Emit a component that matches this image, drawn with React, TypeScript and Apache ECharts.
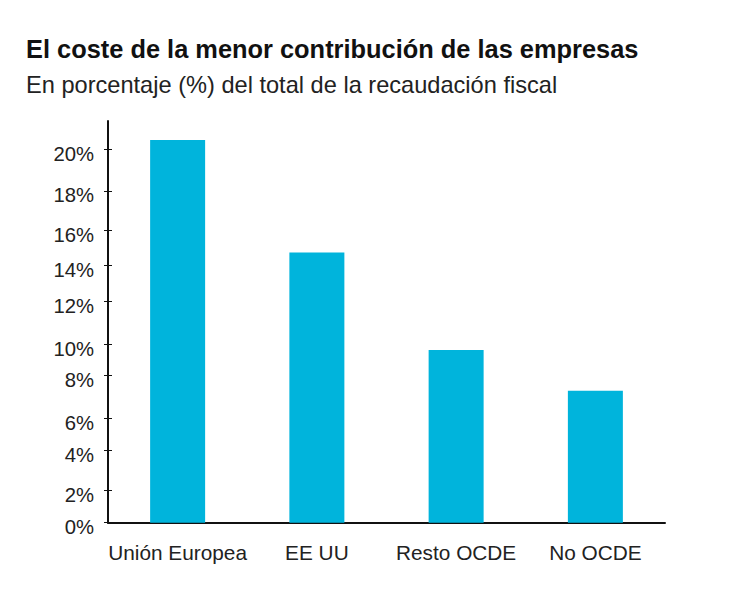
import React, { useEffect, useRef } from "react";
import * as echarts from "echarts";

const titleText = "El coste de la menor contribución de las empresas";
const subtitleText = "En porcentaje (%) del total de la recaudación fiscal";

const categories = ["Unión Europea", "EE UU", "Resto OCDE", "No OCDE"];
const values = [20.5, 14.48, 9.25, 7.07];

// Tick labels as printed in the original, and where their ticks sit on the value scale
const tickLabels = ["0%", "2%", "4%", "6%", "8%", "10%", "12%", "14%", "16%", "18%", "20%"];
const tickPositions = [0, 1.75, 3.89, 5.59, 7.91, 9.57, 11.84, 13.8, 15.68, 17.77, 20];

const axisMax = 21.52;
const FONT = "'Liberation Sans', Arial, Helvetica, sans-serif";

function labelFor(v: number): string {
  let best = 0;
  let bd = Infinity;
  tickPositions.forEach((p, i) => {
    const d = Math.abs(p - v);
    if (d < bd) {
      bd = d;
      best = i;
    }
  });
  return tickLabels[best];
}

export default function App() {
  const ref = useRef<HTMLDivElement>(null);

  useEffect(() => {
    document.body.style.margin = "0";
    if (!ref.current) return;
    const chart = echarts.init(ref.current, null, { renderer: "svg" });
    chart.setOption({
      animation: false,
      backgroundColor: "#ffffff",
      title: [
        {
          text: titleText,
          left: 26,
          top: 36,
          padding: 0,
          textStyle: {
            fontFamily: FONT,
            fontSize: 25.4,
            fontWeight: "bold",
            color: "#111111",
            lineHeight: 25,
          },
        },
        {
          text: subtitleText,
          left: 26,
          top: 73,
          padding: 0,
          textStyle: {
            fontFamily: FONT,
            fontSize: 23.6,
            fontWeight: "normal",
            color: "#222222",
            lineHeight: 23.6,
          },
        },
      ],
      grid: {
        left: 108,
        right: 85,
        top: 121,
        bottom: 69.3,
        containLabel: false,
      },
      xAxis: {
        type: "category",
        data: categories,
        axisLine: { show: true, lineStyle: { color: "#111111", width: 2 } },
        axisTick: { show: false },
        axisLabel: {
          interval: 0,
          margin: 19,
          fontFamily: FONT,
          fontSize: 20.8,
          color: "#222222",
          verticalAlign: "top",
          lineHeight: 21,
        },
        splitLine: { show: false },
      },
      yAxis: [
        {
          type: "value",
          min: 0,
          max: axisMax,
          axisLine: { show: true, lineStyle: { color: "#111111", width: 2 } },
          axisTick: {
            show: true,
            length: 4,
            inside: false,
            customValues: tickPositions,
            lineStyle: { color: "#111111", width: 1 },
          },
          axisLabel: {
            customValues: tickPositions,
            formatter: (v: number) => labelFor(v),
            margin: 14,
            fontFamily: FONT,
            fontSize: 20.3,
            color: "#222222",
            verticalAlign: "top",
            lineHeight: 9,
          },
          splitLine: { show: false },
        },
        {
          type: "value",
          min: 0,
          max: axisMax,
          position: "left",
          axisLine: { show: false },
          axisTick: {
            show: true,
            length: 4,
            inside: true,
            customValues: tickPositions,
            lineStyle: { color: "#111111", width: 1 },
          },
          axisLabel: { show: false },
          splitLine: { show: false },
        },
      ],
      series: [
        {
          type: "bar",
          data: values,
          barWidth: 55,
          itemStyle: { color: "#00b4dc" },
          yAxisIndex: 0,
        },
      ],
    });
    return () => chart.dispose();
  }, []);

  return <div ref={ref} style={{ width: 750, height: 592 }} />;
}
